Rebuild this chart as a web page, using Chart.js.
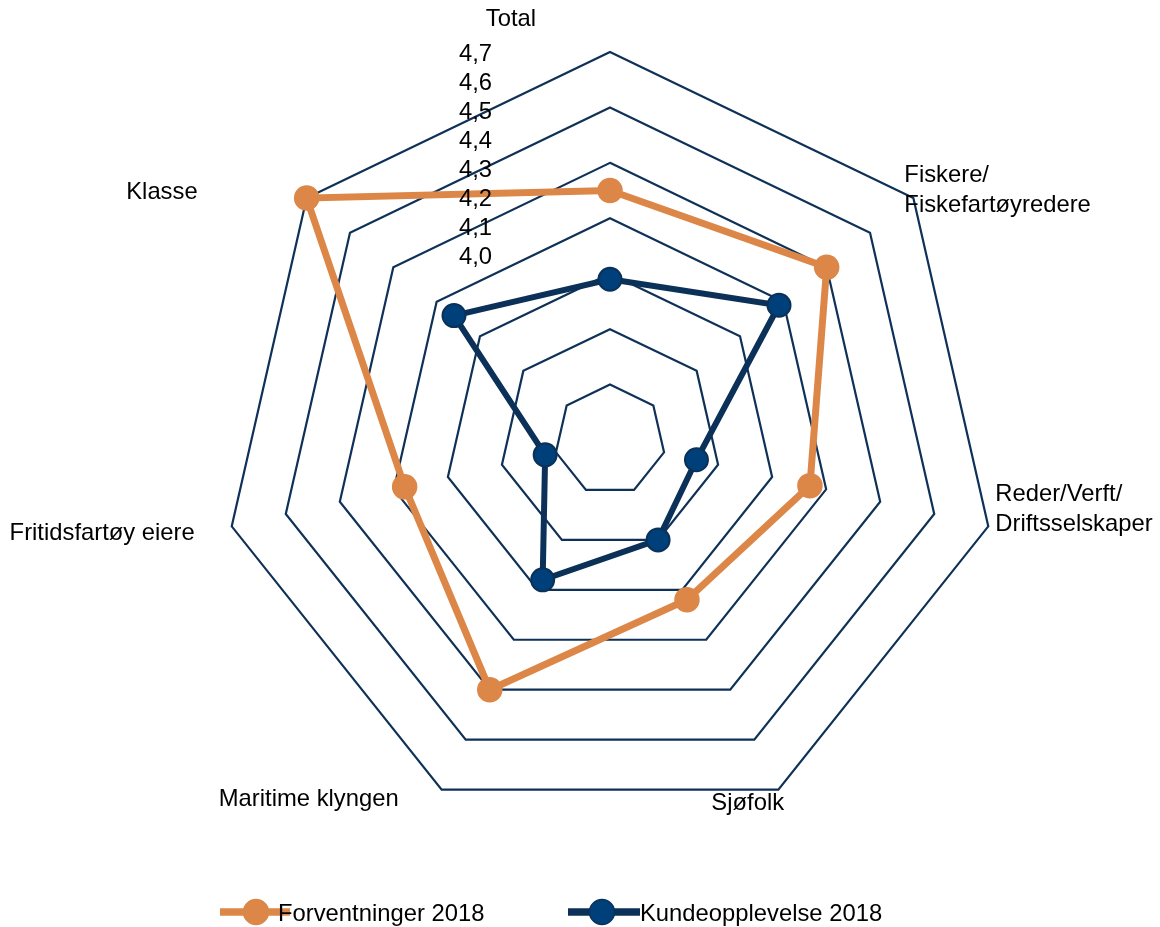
<!DOCTYPE html>
<html>
<head>
<meta charset="utf-8">
<script src="https://cdn.jsdelivr.net/npm/chart.js@4.4.1/dist/chart.umd.min.js"></script>
<style>
html,body{margin:0;padding:0;background:#ffffff;}
#wrap{width:1160px;height:927px;position:relative;}
</style>
</head>
<body>
<div id="wrap"><canvas id="c" width="1160" height="927"></canvas></div>
<script>
// ---- data ----
const categories = ['Total', ['Fiskere/', 'Fiskefartøyredere'], ['Reder/Verft/', 'Driftsselskaper'], 'Sjøfolk', 'Maritime klyngen', 'Fritidsfartøy eiere', 'Klasse'];
const seriesNames = ['Forventninger 2018', 'Kundeopplevelse 2018'];
const forventninger = [4.45, 4.50, 4.37, 4.32, 4.50, 4.38, 4.70];
const kundeopplevelse = [4.29, 4.39, 4.16, 4.20, 4.28, 4.12, 4.36];
const tickValues = [4.0, 4.1, 4.2, 4.3, 4.4, 4.5, 4.6, 4.7];
const tickLabels = ['4,0', '4,1', '4,2', '4,3', '4,4', '4,5', '4,6', '4,7'];

// ---- style / layout ----
const FONT = '"Liberation Sans", Arial, Helvetica, sans-serif';
const FONT_SIZE = 23.8;
const TEXT_DY = 2.5;
const ORANGE = '#dc8748';
const BLUE_LINE = '#0b3159';
const BLUE_FILL = '#00407a';
const GRID = '#0f3158';
const CENTER = {x: 610, y: 440, r: 388};
const labelStyle = [
  {align: 'center', dx: -99, dy: -35},
  {align: 'left', dx: -9, dy: -25},
  {align: 'left', dx: 7, dy: -34},
  {align: 'left', dx: -67, dy: 11},
  {align: 'right', dx: -43, dy: 7},
  {align: 'right', dx: -37, dy: 5},
  {align: 'right', dx: -109, dy: -8}
];
const LINE_GAP = 29.5;
const tickText = {x: 492, y0: 255, step: 29};
const legendItems = [
  {x0: 220, x1: 290, mx: 256, tx: 278, color: ORANGE, fill: ORANGE, border: ORANGE},
  {x0: 568, x1: 640, mx: 602, tx: 640, color: BLUE_LINE, fill: BLUE_FILL, border: BLUE_LINE}
];
const LEGEND_Y = 912;

const textPlugin = {
  id: 'textPlugin',
  afterDraw(chart) {
    const s = chart.scales.r;
    const ctx = chart.ctx;
    ctx.save();
    ctx.font = FONT_SIZE + 'px ' + FONT;
    ctx.fillStyle = '#000000';
    ctx.textBaseline = 'middle';
    // category labels
    categories.forEach((lab, i) => {
      const p = s.getPointPosition(i, s.drawingArea);
      const st = labelStyle[i];
      ctx.textAlign = st.align;
      const lines = Array.isArray(lab) ? lab : [lab];
      lines.forEach((ln, k) => ctx.fillText(ln, p.x + st.dx, p.y + st.dy + k * LINE_GAP + TEXT_DY));
    });
    // tick labels (stacked, as in the original)
    ctx.textAlign = 'right';
    s.ticks.forEach((t, i) => {
      ctx.fillText(t.label, tickText.x, tickText.y0 - i * tickText.step + TEXT_DY);
    });
    // legend
    ctx.textAlign = 'left';
    legendItems.forEach((it, i) => {
      ctx.strokeStyle = it.color;
      ctx.lineWidth = 7.5;
      ctx.beginPath();
      ctx.moveTo(it.x0, LEGEND_Y);
      ctx.lineTo(it.x1, LEGEND_Y);
      ctx.stroke();
      ctx.beginPath();
      ctx.arc(it.mx, LEGEND_Y, 12.5, 0, Math.PI * 2);
      ctx.fillStyle = it.fill;
      ctx.fill();
      ctx.lineWidth = 1.5;
      ctx.strokeStyle = it.border;
      ctx.stroke();
      ctx.fillStyle = '#000000';
      ctx.fillText(seriesNames[i], it.tx, LEGEND_Y + TEXT_DY);
    });
    ctx.restore();
  }
};

new Chart(document.getElementById('c'), {
  type: 'radar',
  data: {
    labels: categories,
    datasets: [
      {
        label: seriesNames[0],
        data: forventninger,
        borderColor: ORANGE,
        backgroundColor: 'rgba(0,0,0,0)',
        borderWidth: 7,
        fill: false,
        pointRadius: 12,
        pointBackgroundColor: ORANGE,
        pointBorderColor: ORANGE,
        pointBorderWidth: 1.5
      },
      {
        label: seriesNames[1],
        data: kundeopplevelse,
        borderColor: BLUE_LINE,
        backgroundColor: 'rgba(0,0,0,0)',
        borderWidth: 6,
        fill: false,
        pointRadius: 11.5,
        pointBackgroundColor: BLUE_FILL,
        pointBorderColor: BLUE_LINE,
        pointBorderWidth: 2
      }
    ]
  },
  options: {
    responsive: false,
    devicePixelRatio: 1,
    animation: false,
    events: [],
    elements: {line: {tension: 0}},
    plugins: {legend: {display: false}, tooltip: {enabled: false}},
    scales: {
      r: {
        min: tickValues[0],
        max: tickValues[tickValues.length - 1],
        beginAtZero: false,
        ticks: {
          stepSize: 0.1,
          display: false,
          callback: (v) => {
            const k = tickValues.findIndex(t => Math.abs(t - v) < 1e-6);
            return k >= 0 ? tickLabels[k] : '';
          }
        },
        angleLines: {display: false},
        pointLabels: {display: false},
        grid: {circular: false, color: GRID, lineWidth: 2.2},
        afterFit: (scale) => {
          scale.xCenter = CENTER.x;
          scale.yCenter = CENTER.y;
          scale.drawingArea = CENTER.r;
        }
      }
    }
  },
  plugins: [textPlugin]
});
</script>
</body>
</html>
